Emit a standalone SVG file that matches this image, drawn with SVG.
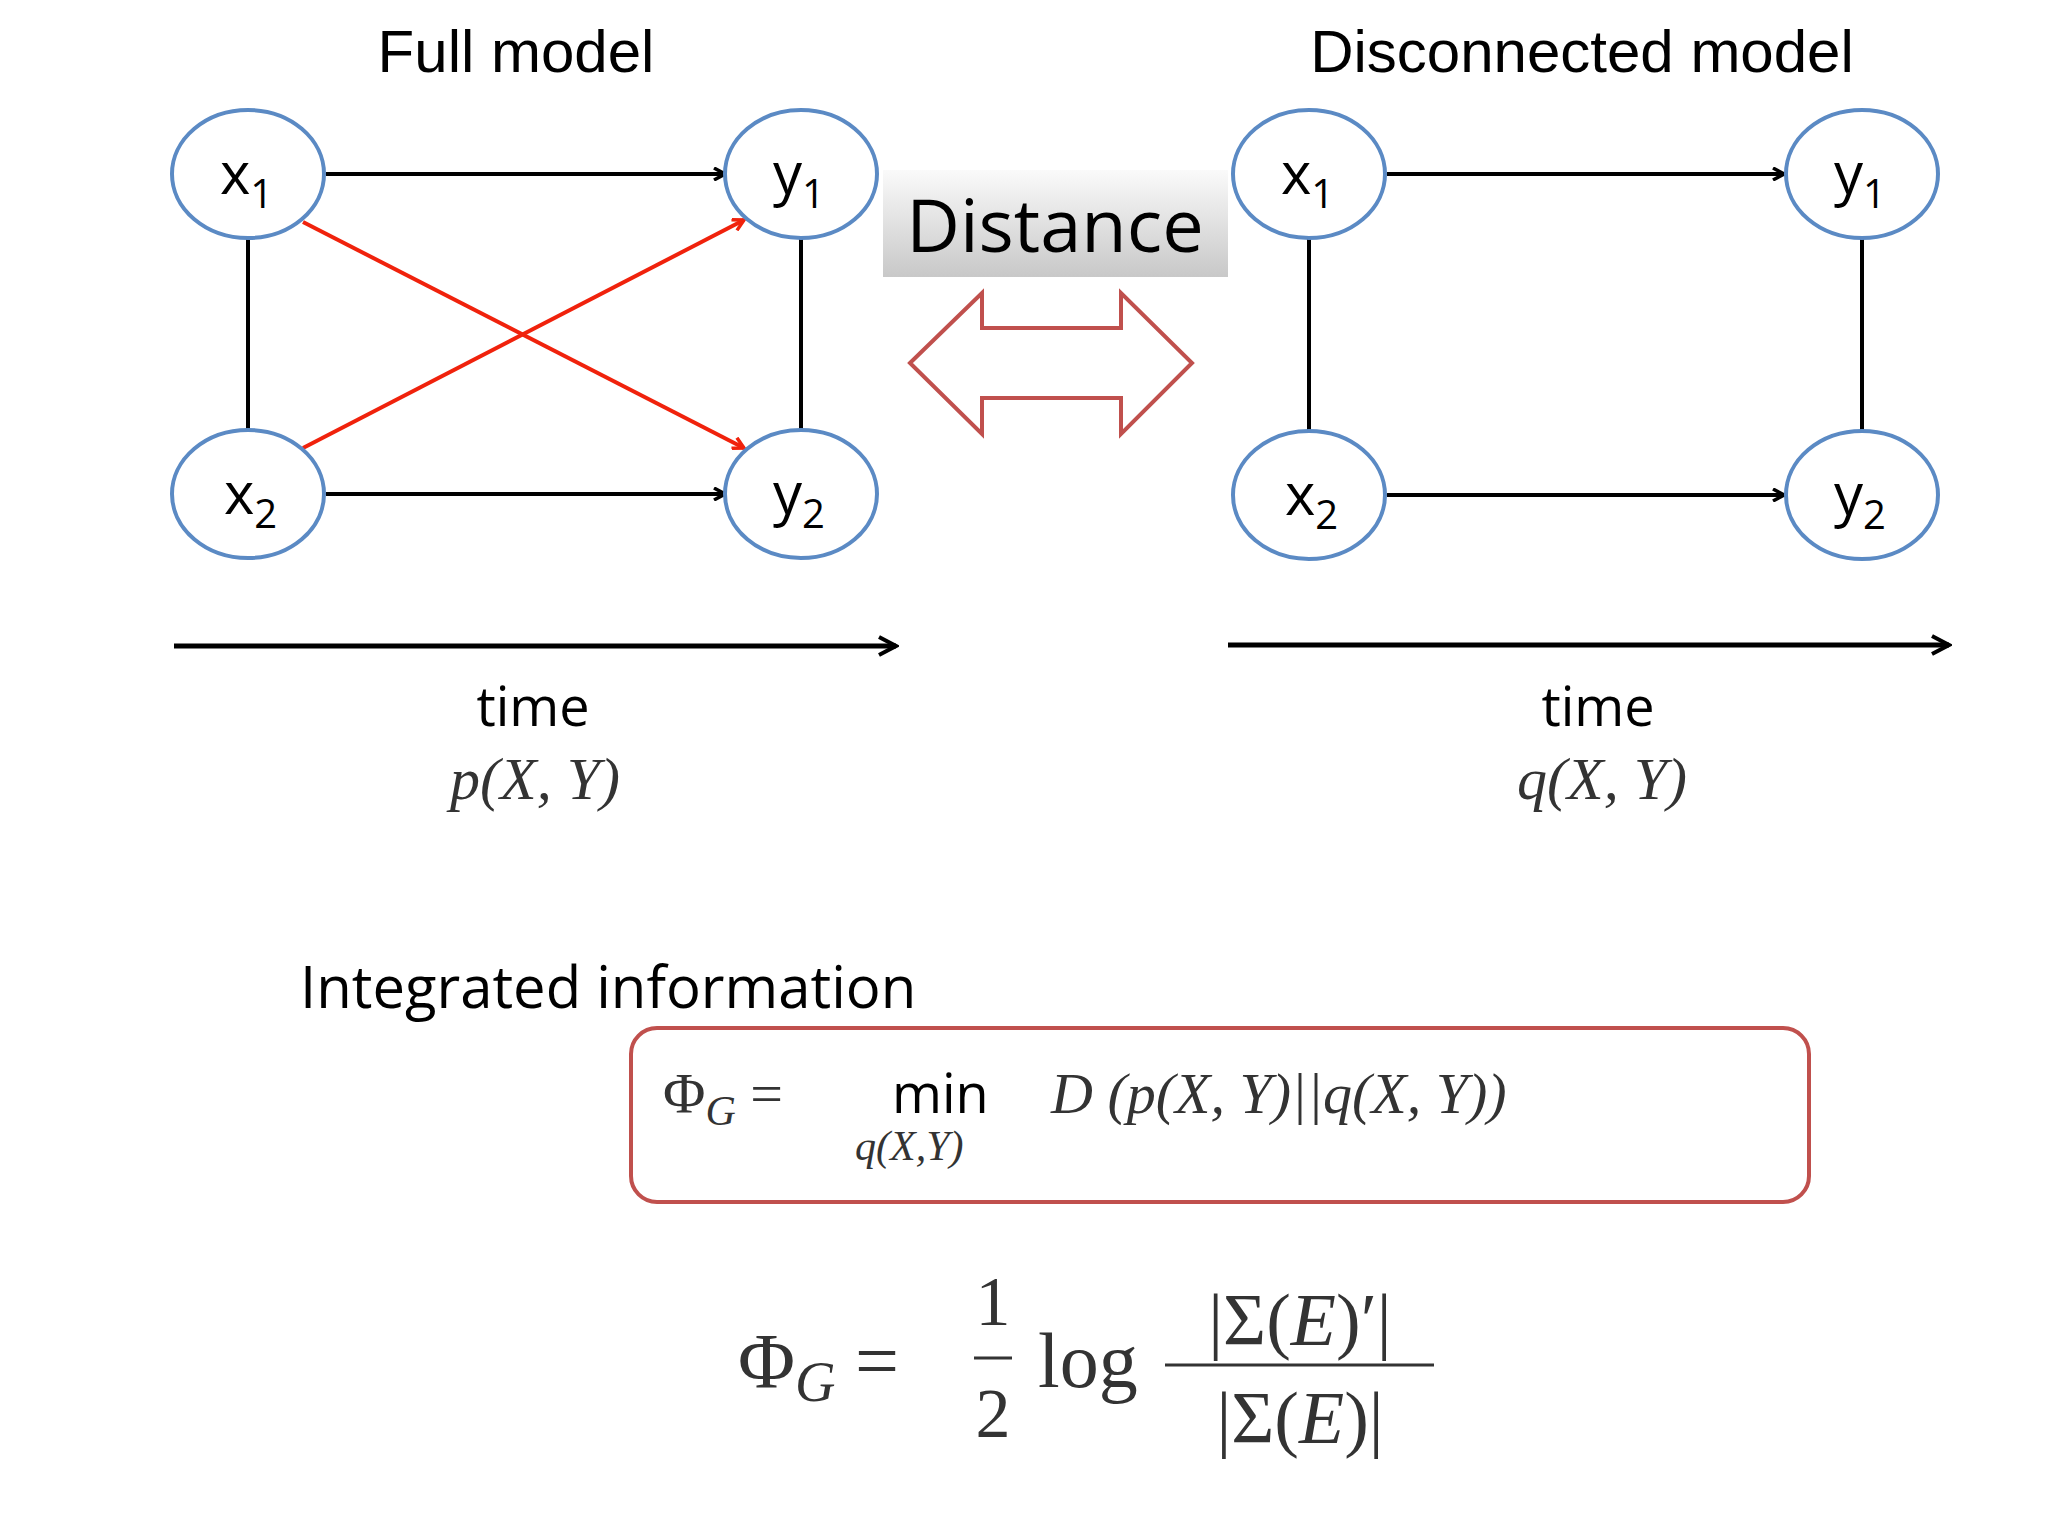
<svg xmlns="http://www.w3.org/2000/svg" width="2048" height="1536" viewBox="0 0 2048 1536">
<defs>
<style>
.node{fill:#fff;stroke:#5b8ac4;stroke-width:4}
.lbl{font-family:"Open Sans","Liberation Sans",sans-serif;font-size:58px;fill:#000}
.sub{font-size:40px}
.ln{stroke:#000;stroke-width:4;fill:none}
.red{stroke:#f0220c;stroke-width:4;fill:none}
.title{font-family:"Liberation Sans",Arial,sans-serif;font-size:60px;fill:#000;text-anchor:middle}
.sans{font-family:"Open Sans","Liberation Sans",sans-serif;fill:#000}
.math{font-family:"Liberation Serif","Times New Roman",serif;fill:#333}
</style>
<marker id="ah" markerWidth="14" markerHeight="14" refX="12" refY="7" orient="auto" markerUnits="userSpaceOnUse"><path d="M1,1 L12,7 L1,13" fill="none" stroke="#000" stroke-width="3.5"/></marker>
<marker id="ahr" markerWidth="14" markerHeight="14" refX="12" refY="7" orient="auto" markerUnits="userSpaceOnUse"><path d="M1,1 L12,7 L1,13" fill="none" stroke="#f0220c" stroke-width="3.5"/></marker>
<marker id="ahb" markerWidth="22" markerHeight="22" refX="19" refY="11" orient="auto" markerUnits="userSpaceOnUse"><path d="M2,2 L19,11 L2,20" fill="none" stroke="#000" stroke-width="4"/></marker>
<linearGradient id="g" x1="0" y1="0" x2="0" y2="1"><stop offset="0" stop-color="#fafafa"/><stop offset="1" stop-color="#c8c8c8"/></linearGradient>
</defs>
<rect width="2048" height="1536" fill="#fff"/>
<text class="title" x="516" y="72">Full model</text>
<text class="title" x="1582" y="72">Disconnected model</text>
<g id="connectors">
<line class="ln" x1="326" y1="174" x2="725" y2="174" marker-end="url(#ah)"/>
<line class="ln" x1="326" y1="494" x2="725" y2="494" marker-end="url(#ah)"/>
<line class="ln" x1="248" y1="238" x2="248" y2="430"/>
<line class="ln" x1="801" y1="238" x2="801" y2="430"/>
<line class="red" x1="303" y1="222" x2="744" y2="448" marker-end="url(#ahr)"/>
<line class="red" x1="303" y1="448" x2="744" y2="220" marker-end="url(#ahr)"/>
<line class="ln" x1="1387" y1="174" x2="1784" y2="174" marker-end="url(#ah)"/>
<line class="ln" x1="1387" y1="495" x2="1784" y2="495" marker-end="url(#ah)"/>
<line class="ln" x1="1309" y1="238" x2="1309" y2="431"/>
<line class="ln" x1="1862" y1="238" x2="1862" y2="431"/>
<line stroke="#000" stroke-width="5" x1="174" y1="646" x2="896" y2="646" marker-end="url(#ahb)"/>
<line stroke="#000" stroke-width="5" x1="1228" y1="645" x2="1949" y2="645" marker-end="url(#ahb)"/>
</g>
<g id="fx1"><ellipse class="node" cx="248" cy="174" rx="76" ry="64"/><text class="lbl" x="220" y="194">x<tspan class="sub" dy="14">1</tspan></text></g>
<g id="fy1"><ellipse class="node" cx="801" cy="174" rx="76" ry="64"/><text class="lbl" x="773" y="194">y<tspan class="sub" dy="14">1</tspan></text></g>
<g id="fx2"><ellipse class="node" cx="248" cy="494" rx="76" ry="64"/><text class="lbl" x="224" y="514">x<tspan class="sub" dy="14">2</tspan></text></g>
<g id="fy2"><ellipse class="node" cx="801" cy="494" rx="76" ry="64"/><text class="lbl" x="773" y="514">y<tspan class="sub" dy="14">2</tspan></text></g>
<g id="dx1"><ellipse class="node" cx="1309" cy="174" rx="76" ry="64"/><text class="lbl" x="1281" y="194">x<tspan class="sub" dy="14">1</tspan></text></g>
<g id="dy1"><ellipse class="node" cx="1862" cy="174" rx="76" ry="64"/><text class="lbl" x="1834" y="194">y<tspan class="sub" dy="14">1</tspan></text></g>
<g id="dx2"><ellipse class="node" cx="1309" cy="495" rx="76" ry="64"/><text class="lbl" x="1285" y="515">x<tspan class="sub" dy="14">2</tspan></text></g>
<g id="dy2"><ellipse class="node" cx="1862" cy="495" rx="76" ry="64"/><text class="lbl" x="1834" y="515">y<tspan class="sub" dy="14">2</tspan></text></g>
<g id="distance">
<rect x="883" y="170" width="345" height="107" fill="url(#g)"/>
<text class="sans" x="1055" y="252" font-size="74" text-anchor="middle">Distance</text>
</g>
<path d="M910,363 L982,293 L982,328 L1121,328 L1121,293 L1192,363 L1121,434 L1121,398 L982,398 L982,434 Z" fill="#fff" stroke="#c0504d" stroke-width="4"/>
<text class="sans" x="533" y="726" font-size="54" text-anchor="middle">time</text>
<text class="sans" x="1598" y="726" font-size="54" text-anchor="middle">time</text>
<text class="math" x="535" y="799" font-size="60" font-style="italic" text-anchor="middle">p(X, Y)</text>
<text class="math" x="1602" y="799" font-size="60" font-style="italic" text-anchor="middle">q(X, Y)</text>
<text class="sans" x="300" y="1008" font-size="58">Integrated information</text>
<g id="formula1">
<rect x="631" y="1028" width="1178" height="174" rx="26" fill="none" stroke="#c0504d" stroke-width="4"/>
<text class="math" x="663" y="1113" font-size="58">Φ<tspan font-style="italic" font-size="42" dy="12">G</tspan><tspan dy="-12"> =</tspan></text>
<text class="sans" x="892" y="1113" font-size="54" fill="#333">min</text>
<text class="math" x="855" y="1160" font-size="42" font-style="italic">q(X,Y)</text>
<text class="math" x="1051" y="1113" font-size="58" font-style="italic">D (p(X, Y)||q(X, Y))</text>
</g>
<g id="formula2">
<text class="math" x="738" y="1387" font-size="78">Φ<tspan font-style="italic" font-size="56" dy="14">G</tspan><tspan dy="-14"> =</tspan></text>
<text class="math" x="993" y="1325" font-size="70" text-anchor="middle">1</text>
<line x1="974" y1="1358" x2="1012" y2="1358" stroke="#333" stroke-width="3"/>
<text class="math" x="993" y="1437" font-size="70" text-anchor="middle">2</text>
<text class="math" x="1038" y="1387" font-size="78">log</text>
<text class="math" x="1300" y="1345" font-size="74" text-anchor="middle">|Σ(<tspan font-style="italic">E</tspan>)′|</text>
<line x1="1165" y1="1365" x2="1434" y2="1365" stroke="#333" stroke-width="3"/>
<text class="math" x="1300" y="1443" font-size="74" text-anchor="middle">|Σ(<tspan font-style="italic">E</tspan>)|</text>
</g>
</svg>
